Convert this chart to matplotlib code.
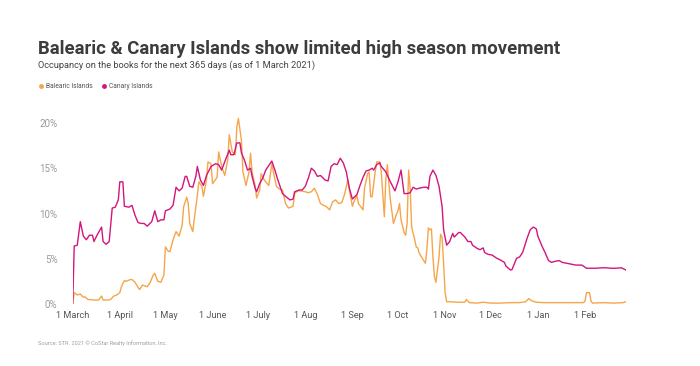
import matplotlib
matplotlib.use("Agg")
import matplotlib.pyplot as plt
from matplotlib.lines import Line2D
import numpy as np
import pandas as pd

# ---- data (day offsets from 1 March 2021, occupancy %) ----
canary_days = [0, 1, 3, 5, 7, 9, 11, 13, 14, 16, 19, 20, 22, 24, 26, 28, 30, 31, 33, 34, 37, 39, 41, 43, 45, 47, 49,
               52, 54, 56, 58, 60, 61, 64, 66, 68, 70, 72, 74, 75, 77, 79, 81, 82, 84, 86, 88, 91, 94, 96, 98, 100,
               103, 104, 106, 108, 110, 111, 113, 115, 117, 118, 120, 121, 123, 125, 127, 131, 133, 135, 138, 140,
               143, 145, 146, 149, 151, 153, 155, 157, 159, 161, 163, 166, 168, 170, 172, 174, 176, 178, 180, 182,
               184, 187, 189, 191, 193, 195, 197, 198, 200, 202, 203, 205, 206, 209, 212, 214, 216, 218, 220, 222,
               224, 226, 228, 231, 233, 234, 235, 237, 239, 241, 243, 244, 246, 248, 250, 251, 254, 255, 258, 260,
               262, 263, 266, 268, 270, 271, 273, 276, 279, 281, 284, 285, 288, 289, 292, 294, 296, 299, 301, 303,
               305, 306, 309, 311, 313, 315, 317, 320, 322, 325, 328, 331, 335, 338, 341, 344, 348, 351, 354, 357,
               361, 364]
canary_vals = [0.0, 6.4, 6.5, 9.1, 7.5, 7.1, 7.6, 7.6, 6.9, 7.6, 8.5, 6.9, 6.6, 6.9, 10.6, 10.7, 11.5, 13.5, 13.5,
               10.8, 10.7, 10.9, 9.8, 9.0, 8.9, 8.9, 8.6, 9.1, 10.3, 9.1, 9.3, 9.3, 10.3, 10.5, 10.9, 12.9, 12.5,
               12.8, 14.1, 14.1, 13.0, 12.9, 14.1, 15.2, 13.7, 13.1, 14.2, 15.2, 15.5, 15.4, 14.8, 15.7, 17.0, 16.5,
               16.5, 17.8, 17.8, 16.7, 15.9, 14.8, 15.0, 14.1, 12.8, 12.4, 13.3, 13.9, 14.8, 15.8, 14.8, 13.7, 12.2,
               11.9, 11.5, 11.6, 12.4, 12.6, 12.6, 13.0, 13.9, 15.0, 14.7, 14.1, 14.2, 13.7, 13.6, 15.2, 15.5, 15.4,
               16.1, 15.6, 14.6, 12.8, 11.6, 12.1, 13.1, 14.0, 14.7, 14.8, 15.0, 14.8, 15.4, 15.6, 15.2, 14.8, 14.6,
               13.5, 12.5, 13.5, 14.8, 12.2, 12.2, 12.3, 12.9, 12.7, 12.8, 12.9, 12.9, 12.7, 14.1, 14.8, 14.2, 13.0,
               10.8, 8.2, 6.5, 6.9, 7.8, 7.4, 7.9, 7.9, 7.4, 6.9, 6.9, 6.5, 6.15, 6.0, 6.2, 5.7, 5.5, 5.4, 5.05, 4.9,
               4.6, 4.2, 3.75, 3.8, 5.05, 5.2, 5.7, 7.3, 8.2, 8.5, 8.3, 7.5, 6.3, 5.6, 4.8, 4.6, 4.7, 4.8, 4.6, 4.5,
               4.4, 4.3, 4.3, 3.95, 3.95, 3.95, 4.0, 4.0, 3.95, 3.95, 4.0, 3.75]

balearic_days = [0, 1, 3, 5, 7, 8, 10, 14, 17, 19, 20, 23, 25, 27, 29, 31, 32, 34, 35, 38, 39, 41, 43, 44, 46, 49,
                 51, 53, 54, 56, 58, 60, 61, 63, 64, 66, 68, 70, 72, 73, 75, 76, 77, 79, 80, 82, 83, 85, 86, 88, 89,
                 91, 92, 95, 96, 98, 100, 102, 103, 105, 107, 108, 109, 111, 112, 114, 116, 117, 118, 120, 121, 123,
                 124, 126, 129, 131, 132, 134, 136, 138, 140, 142, 145, 146, 148, 150, 153, 155, 157, 159, 161, 163,
                 165, 167, 169, 171, 173, 175, 177, 179, 181, 182, 184, 185, 187, 188, 191, 192, 194, 195, 196, 197,
                 199, 200, 202, 203, 205, 206, 207, 208, 209, 211, 213, 214, 215, 216, 218, 219, 220, 221, 222, 223,
                 225, 226, 227, 228, 230, 232, 233, 234, 235, 236, 237, 238, 239, 241, 242, 243, 244, 245, 246, 248,
                 253, 258, 259, 261, 266, 270, 275, 281, 288, 294, 298, 300, 302, 305, 310, 316, 323, 329, 336, 337,
                 338, 340, 341, 342, 349, 356, 362, 364]
balearic_vals = [0.0, 1.25, 1.0, 1.1, 0.74, 0.8, 0.5, 0.44, 0.44, 0.88, 0.44, 0.44, 0.5, 0.88, 1.0, 1.25, 1.9, 2.6,
                 2.5, 2.7, 2.7, 2.4, 1.84, 1.6, 2.1, 1.9, 2.4, 3.2, 3.4, 2.5, 2.4, 3.2, 6.3, 5.8, 5.8, 7.1, 8.0, 7.5,
                 8.7, 10.75, 11.8, 11.1, 8.9, 8.0, 9.4, 12.0, 13.5, 13.0, 11.9, 13.7, 15.7, 15.5, 13.3, 14.0, 16.8,
                 15.2, 14.2, 15.9, 18.7, 16.8, 16.5, 19.6, 20.5, 18.1, 14.6, 13.1, 14.6, 16.65, 14.6, 13.1, 11.7,
                 12.6, 14.4, 13.7, 13.1, 15.5, 14.6, 13.0, 12.7, 12.6, 11.1, 10.6, 10.8, 12.2, 12.5, 12.5, 12.4, 12.3,
                 12.4, 12.8, 12.1, 11.1, 10.9, 10.75, 10.4, 11.3, 11.5, 11.1, 11.2, 12.2, 13.7, 12.6, 10.8, 11.3,
                 12.0, 11.1, 10.4, 12.8, 14.4, 14.6, 11.85, 11.85, 14.6, 15.7, 15.7, 14.6, 9.65, 13.7, 15.4, 13.3,
                 11.5, 8.9, 9.9, 10.3, 11.1, 9.3, 7.9, 7.6, 8.9, 14.8, 12.8, 8.5, 7.1, 6.3, 6.2, 5.6, 5.05, 4.5, 6.0,
                 8.4, 8.2, 8.3, 5.2, 3.0, 2.4, 5.2, 7.7, 7.4, 4.5, 1.25, 0.25, 0.25, 0.2, 0.2, 0.5, 0.15, 0.1, 0.2,
                 0.1, 0.1, 0.15, 0.15, 0.25, 0.6, 0.35, 0.2, 0.15, 0.15, 0.15, 0.15, 0.15, 0.3, 1.25, 1.25, 0.3, 0.1,
                 0.15, 0.1, 0.15, 0.25]

month_ticks = ["2021-03-01", "2021-04-01", "2021-05-01", "2021-06-01", "2021-07-01", "2021-08-01",
               "2021-09-01", "2021-10-01", "2021-11-01", "2021-12-01", "2022-01-01", "2022-02-01"]
month_labels = ["1 March", "1 April", "1 May", "1 June", "1 July", "1 Aug", "1 Sep", "1 Oct", "1 Nov",
                "1 Dec", "1 Jan", "1 Feb"]
y_ticks = [0, 5, 10, 15, 20]
y_labels = ["0%", "5%", "10%", "15%", "20%"]

title = "Balearic & Canary Islands show limited high season movement"
subtitle = "Occupancy on the books for the next 365 days (as of 1 March 2021)"
source = "Source: STR. 2021 \u00a9 CoStar Realty Information, Inc."

ORANGE = "#F6A54A"
MAGENTA = "#D3157C"

plt.rcParams["font.family"] = ["Roboto", "DejaVu Sans"]

start = pd.Timestamp("2021-03-01")
tick_days = [(pd.Timestamp(t) - start).days for t in month_ticks]

W, H = 700, 366
fig = plt.figure(figsize=(7, 3.66), dpi=100)
x0, x1 = 72.7, 626.0
y0 = 304.0
ymax = 21.0
px_per_pct = (304.0 - 123.0) / 20.0
ytop = y0 - ymax * px_per_pct
ax = fig.add_axes([x0 / W, (H - y0) / H, (x1 - x0) / W, (y0 - ytop) / H])

ax.plot(balearic_days, balearic_vals, color=ORANGE, lw=1.0, solid_joinstyle="round")
ax.plot(canary_days, canary_vals, color=MAGENTA, lw=1.0, solid_joinstyle="round")

ax.set_xlim(0, 364)
ax.set_ylim(0, ymax)
for s in ax.spines.values():
    s.set_visible(False)
ax.set_xticks(tick_days)
ax.set_xticklabels(month_labels, fontsize=6.6, color="#555555")
ax.set_yticks(y_ticks)
ax.set_yticklabels(y_labels, fontsize=7, color="#9a9a9a")
ax.tick_params(axis="x", length=0, pad=5)
ax.tick_params(axis="y", length=0, pad=11)

fig.text(38 / W, 1 - 54 / H, title, fontsize=13.3, fontweight="bold", color="#3c3c3c", va="baseline", ha="left")
fig.text(38 / W, 1 - 68 / H, subtitle, fontsize=6.7, color="#444444", va="baseline", ha="left")
fig.text(38 / W, 1 - 345 / H, source, fontsize=4.1, color="#a0a0a0", va="baseline", ha="left")

handles = [Line2D([], [], ls="none", marker="o", ms=3.5, color=ORANGE, mec="none"),
           Line2D([], [], ls="none", marker="o", ms=3.5, color=MAGENTA, mec="none")]
fig.legend(handles, ["Balearic Islands", "Canary Islands"], loc="center left",
           bbox_to_anchor=(35 / W, 1 - 87 / H), ncol=2, frameon=False, fontsize=4.8,
           handlelength=0.8, handletextpad=0.4, columnspacing=1.2, labelcolor="#555555", borderpad=0)

fig.savefig("out.png", dpi=100)
